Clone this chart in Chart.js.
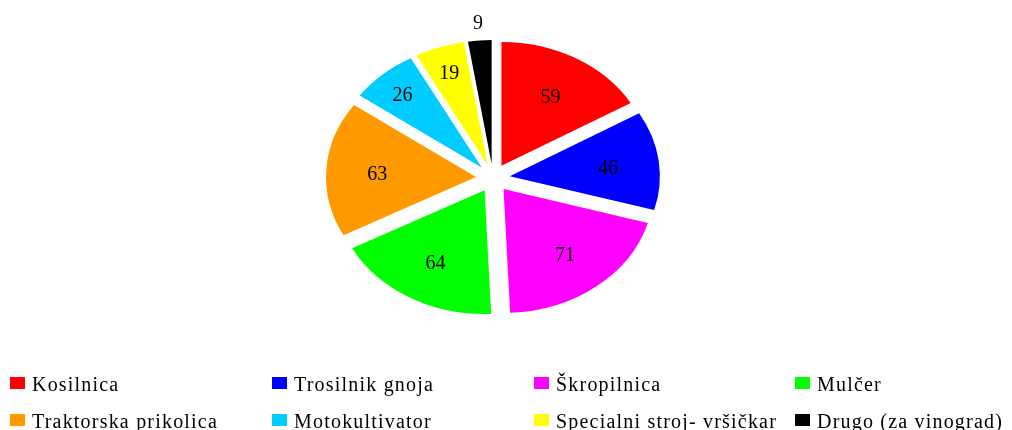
<!DOCTYPE html>
<html>
<head>
<meta charset="utf-8">
<script src="https://cdn.jsdelivr.net/npm/chart.js@4.4.1/dist/chart.umd.min.js"></script>
<style>
  html, body { margin: 0; padding: 0; background: #fff; }
  #wrap { width: 1012px; height: 430px; }
</style>
</head>
<body>
<div id="wrap"><canvas id="pie" width="1012" height="430"></canvas></div>
<script>
const labels = ['Kosilnica', 'Trosilnik gnoja', 'Škropilnica', 'Mulčer',
  'Traktorska prikolica', 'Motokultivator', 'Specialni stroj- vršičkar', 'Drugo (za vinograd)'];
const counts = [59, 46, 71, 64, 63, 26, 19, 9];
const colors = ['#ff0000', '#0000ff', '#ff00ff', '#00ff00', '#ff9900', '#00ccff', '#ffff00', '#000000'];

const EXPLODE = 17;   // px each slice is pulled out
const SQUASH = 0.826; // pie is drawn as an ellipse
const FONT = '"Liberation Serif", "Times New Roman", serif';

// draw slices ourselves so they can be exploded and squashed
const explodePlugin = {
  id: 'explode',
  beforeDatasetsDraw(chart) {
    const ctx = chart.ctx;
    const meta = chart.getDatasetMeta(0);
    const cx = meta.data[0].x, cy = meta.data[0].y;
    ctx.save();
    ctx.translate(cx, cy);
    ctx.scale(1, SQUASH);
    ctx.translate(-cx, -cy);
    meta.data.forEach(arc => {
      const mid = (arc.startAngle + arc.endAngle) / 2;
      ctx.save();
      ctx.translate(Math.cos(mid) * EXPLODE, Math.sin(mid) * EXPLODE);
      arc.draw(ctx);
      ctx.restore();
    });
    ctx.restore();
    return false;
  },
  afterDraw(chart) {
    const ctx = chart.ctx;
    const meta = chart.getDatasetMeta(0);
    const total = counts.reduce((a, b) => a + b, 0);

    // value labels
    ctx.save();
    ctx.font = '20px ' + FONT;
    ctx.fillStyle = '#000';
    ctx.textAlign = 'center';
    ctx.textBaseline = 'middle';
    meta.data.forEach((arc, i) => {
      const share = counts[i] / total;
      const mid = (arc.startAngle + arc.endAngle) / 2;
      const r = arc.outerRadius;
      let d;
      if (share < 0.04) d = r + 24;
      else if (share < 0.1) d = r * 0.8;
      else d = r * 0.66;
      d += EXPLODE;
      const x = arc.x + Math.cos(mid) * d;
      const y = arc.y + Math.sin(mid) * d * SQUASH + 3;
      ctx.fillText(String(counts[i]), x, y);
    });
    ctx.restore();

    // legend in a fixed 4 column grid
    const colX = [10, 272, 534, 795];
    const rowY = [391, 428];
    ctx.save();
    ctx.font = '20px ' + FONT;
    ctx.letterSpacing = '1.2px';
    ctx.textBaseline = 'alphabetic';
    ctx.textAlign = 'left';
    labels.forEach((lab, i) => {
      const x = colX[i % 4], y = rowY[Math.floor(i / 4)];
      ctx.fillStyle = colors[i];
      ctx.fillRect(x, y - 14, 15, 12);
      ctx.fillStyle = '#000';
      ctx.fillText(lab, x + 22, y);
    });
    ctx.restore();
  }
};

new Chart(document.getElementById('pie'), {
  type: 'pie',
  data: {
    labels: labels,
    datasets: [{
      data: counts,
      backgroundColor: colors,
      borderWidth: 0
    }]
  },
  options: {
    responsive: false,
    animation: false,
    radius: 150,
    layout: { padding: { left: 0, right: 26, top: 0, bottom: 74 } },
    plugins: {
      legend: { display: false },
      tooltip: { enabled: false }
    }
  },
  plugins: [explodePlugin]
});
</script>
</body>
</html>
